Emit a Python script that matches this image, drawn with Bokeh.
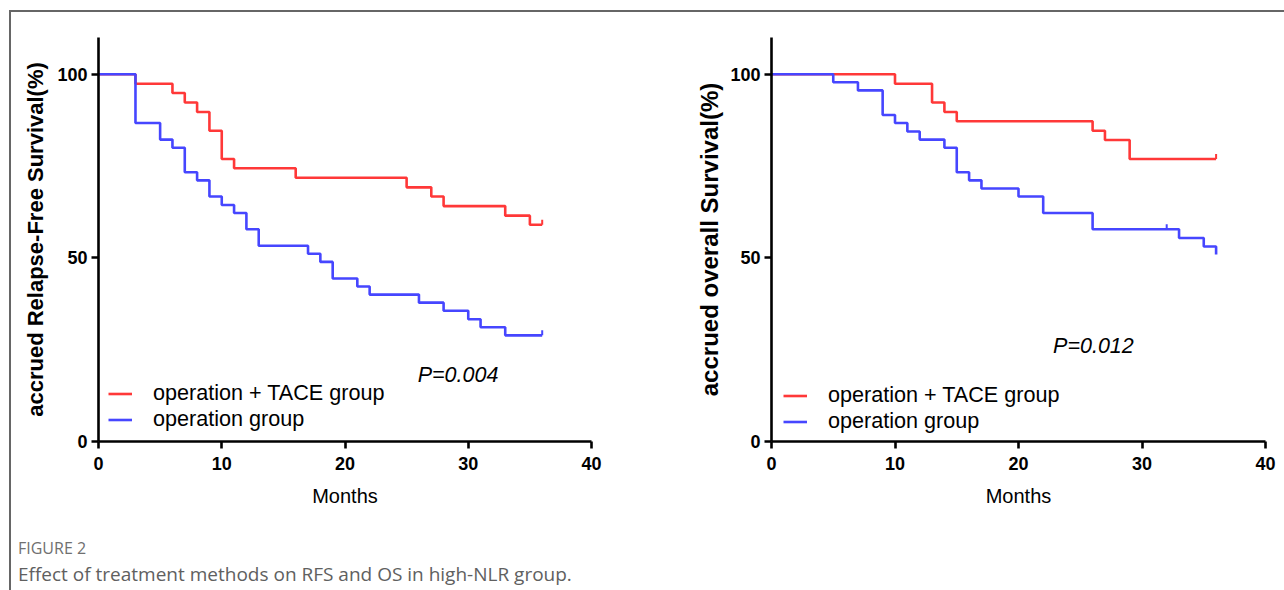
from bokeh.plotting import figure
from bokeh.models import (Range1d, FixedTicker, Legend, LegendItem, Label, Div, Spacer)
from bokeh.layouts import row, column
from bokeh.embed import file_html
from bokeh.resources import INLINE

# ---------------- data ----------------
month_ticks = [0, 10, 20, 30, 40]
pct_ticks = [0, 50, 100]

rfs_tace_t = [0, 3, 6, 7, 8, 9, 10, 11, 16, 25, 27, 28, 33, 35, 36]
rfs_tace_s = [100, 97.4, 94.9, 92.3, 89.7, 84.6, 76.9, 74.4, 71.8, 69.2, 66.7, 64.1, 61.5, 59.0, 59.0]
rfs_op_t = [0, 3, 5, 6, 7, 8, 9, 10, 11, 12, 13, 17, 18, 19, 21, 22, 26, 28, 30, 31, 33, 36]
rfs_op_s = [100, 86.7, 82.2, 80.0, 73.3, 71.1, 66.7, 64.4, 62.2, 57.8, 53.3, 51.1, 48.9, 44.4,
            42.2, 40.0, 37.8, 35.6, 33.3, 31.1, 28.9, 28.9]
rfs_tace_cens_t = [36]
rfs_tace_cens_s = [59.0]
rfs_op_cens_t = [36]
rfs_op_cens_s = [28.9]

os_tace_t = [0, 10, 13, 14, 15, 26, 27, 29, 36]
os_tace_s = [100, 97.4, 92.3, 89.7, 87.2, 84.6, 82.1, 76.9, 76.9]
os_op_t = [0, 5, 7, 9, 10, 11, 12, 14, 15, 16, 17, 20, 22, 26, 33, 35, 36]
os_op_s = [100, 97.8, 95.6, 88.9, 86.7, 84.4, 82.2, 80.0, 73.3, 71.1, 68.9, 66.7, 62.2, 57.8,
           55.4, 53.1, 50.9]
os_tace_cens_t = [36]
os_tace_cens_s = [76.9]
os_op_cens_t = [32]
os_op_cens_s = [57.8]

group_labels = ["operation + TACE group", "operation group"]
p_texts = ["P=0.004", "P=0.012"]
y_titles = ["accrued Relapse-Free Survival(%)", "accrued overall Survival(%)"]
x_title = "Months"

RED = "#ff3838"
BLUE = "#4646ff"
FONT = "Liberation Sans"


def make_panel(tace_t, tace_s, op_t, op_s, tc_t, tc_s, oc_t, oc_s, ytitle, ptext, pxy,
               width, height, b_left, b_right, b_top, b_bottom, legend_loc, ytitle_size,
               ytitle_standoff):
    p = figure(width=width, height=height, output_backend="svg", toolbar_location=None,
               x_range=Range1d(0, 40), y_range=Range1d(0, 110),
               min_border_left=b_left, min_border_right=b_right,
               min_border_top=b_top, min_border_bottom=b_bottom)
    p.outline_line_color = None
    p.grid.visible = False
    p.background_fill_color = "white"
    p.border_fill_color = "white"

    r1 = p.step(tace_t, tace_s, mode="after", line_color=RED, line_width=2.6)
    r2 = p.step(op_t, op_s, mode="after", line_color=BLUE, line_width=2.6)
    p.ray(tc_t, tc_s, length=5, length_units="screen", angle=90, angle_units="deg",
          line_color=RED, line_width=2)
    p.ray(oc_t, oc_s, length=5, length_units="screen", angle=90, angle_units="deg",
          line_color=BLUE, line_width=2)
    # legend-only censor ticks (no data, drawn only in the legend)
    k1 = p.scatter([], [], marker="dash", angle=90, angle_units="deg", size=6,
                   line_color=RED, line_width=1.5)
    k2 = p.scatter([], [], marker="dash", angle=90, angle_units="deg", size=6,
                   line_color=BLUE, line_width=1.5)

    for ax in (p.xaxis[0], p.yaxis[0]):
        ax.axis_line_width = 2.6
        ax.axis_line_color = "black"
        ax.major_tick_line_width = 2.6
        ax.major_tick_line_color = "black"
        ax.major_tick_out = 7
        ax.major_tick_in = 0
        ax.minor_tick_line_color = None
        ax.major_label_text_font = FONT
        ax.major_label_text_font_style = "bold"
        ax.major_label_text_font_size = "18px"
        ax.major_label_text_color = "black"
        ax.axis_label_text_font = FONT
        ax.axis_label_text_color = "black"

    p.xaxis.ticker = FixedTicker(ticks=month_ticks)
    p.yaxis.ticker = FixedTicker(ticks=pct_ticks)
    p.xaxis.major_label_standoff = 8
    p.yaxis.major_label_standoff = 4
    p.xaxis.axis_label = x_title
    p.xaxis.axis_label_text_font_style = "normal"
    p.xaxis.axis_label_text_font_size = "20px"
    p.xaxis.axis_label_standoff = 12
    p.yaxis.axis_label = ytitle
    p.yaxis.axis_label_text_font_style = "bold"
    p.yaxis.axis_label_text_font_size = ytitle_size
    p.yaxis.axis_label_standoff = ytitle_standoff

    leg = Legend(items=[LegendItem(label=group_labels[0], renderers=[r1, k1]),
                        LegendItem(label=group_labels[1], renderers=[r2, k2])],
                 location=legend_loc, padding=0, margin=0, spacing=-2,
                 glyph_width=24, glyph_height=21, label_height=21, label_standoff=21,
                 label_text_font=FONT, label_text_font_size="21.6px",
                 label_text_color="black", background_fill_alpha=0,
                 border_line_color=None)
    p.add_layout(leg)

    p.add_layout(Label(x=pxy[0], y=pxy[1], text=ptext, text_font=FONT,
                       text_font_style="italic", text_font_size="21.5px",
                       text_baseline="middle", text_color="black"))
    return p


p1 = make_panel(rfs_tace_t, rfs_tace_s, rfs_op_t, rfs_op_s,
                rfs_tace_cens_t, rfs_tace_cens_s, rfs_op_cens_t, rfs_op_cens_s,
                y_titles[0], p_texts[0], (25.9, 18.0),
                669, 518, 87, 89, 24, 89, (10, 9), "22px", 6)
p2 = make_panel(os_tace_t, os_tace_s, os_op_t, os_op_s,
                os_tace_cens_t, os_tace_cens_s, os_op_cens_t, os_op_cens_s,
                y_titles[1], p_texts[1], (22.8, 25.9),
                604, 518, 91, 19, 25, 86, (12, 7), "24px", 4)

caption = Div(width=1273, height=60, margin=0, text=(
    "<div style=\"font-family:'Open Sans';padding-left:7px;margin-top:8px;\">"
    "<div style='font-size:16px;color:#707070;line-height:20px;'>FIGURE 2</div>"
    "<div style='font-size:19px;color:#606060;line-height:26px;margin-top:3px;'>"
    "Effect of treatment methods on RFS and OS in high-NLR group.</div></div>"))

hline = Div(width=1275, height=2, margin=0, styles={"background-color": "#666666"})
vline = Div(width=2, height=578, margin=0, styles={"background-color": "#666666"})

layout = column(
    Spacer(width=1284, height=10),
    row(Spacer(width=9, height=2), hline),
    row(Spacer(width=9, height=578), vline, column(row(p1, p2), caption)),
)

html = file_html(layout, INLINE)
html = html.replace("<head>", "<head><style>html, body { margin: 0; padding: 0; }</style>", 1)
open("out.html", "w").write(html)
